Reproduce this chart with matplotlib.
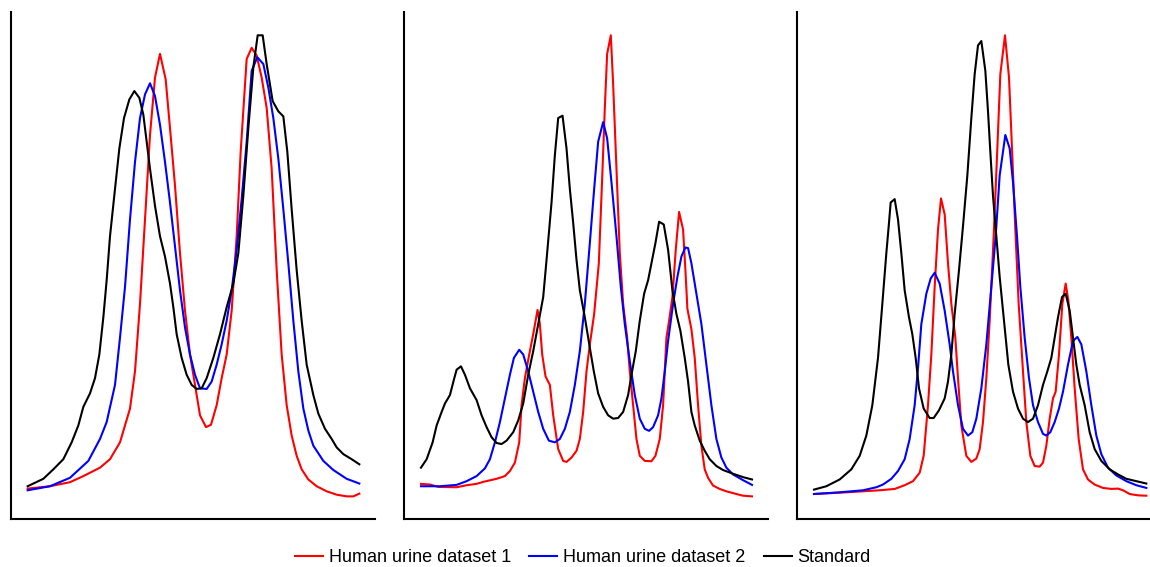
import matplotlib
matplotlib.use('Agg')
import matplotlib.pyplot as plt

plt.rcParams['font.family'] = ['Liberation Sans', 'DejaVu Sans']

labels = ['Human urine dataset 1', 'Human urine dataset 2', 'Standard']
colors = ['red', 'blue', 'black']

# panel 1 (time in arbitrary units, intensity in arbitrary units)
p1_red_x = [83, 150, 210, 250, 300, 330, 360, 390, 405, 420, 435, 450, 465, 480, 497, 510, 525, 540, 555, 570,
            585, 600, 618, 633, 650, 665, 680, 695, 710, 722, 740, 755, 770, 785, 800, 815, 830, 845, 860, 875,
            890, 905, 925, 950, 980, 1010, 1040, 1060, 1078]
p1_red_y = [90, 97, 109, 127, 152, 177, 227, 327, 437, 637, 887, 1137, 1307, 1377, 1302, 1157, 987, 787, 617, 487,
            397, 307, 272, 279, 337, 417, 487, 617, 837, 1087, 1362, 1395, 1372, 1307, 1217, 1037, 737, 487, 337, 247,
            187, 147, 117, 97, 82, 72, 67, 67, 75]
p1_blue_x = [83, 150, 210, 265, 300, 320, 345, 360, 375, 390, 405, 420, 435, 450, 465, 480, 495, 510, 525, 540,
             555, 570, 585, 600, 620, 635, 650, 665, 680, 695, 710, 725, 740, 755, 772, 790, 805, 820, 835, 850,
             865, 880, 895, 910, 925, 940, 970, 1000, 1040, 1078]
p1_blue_y = [85, 97, 122, 172, 237, 287, 397, 537, 687, 887, 1057, 1187, 1257, 1290, 1252, 1167, 1057, 937, 807, 677,
             567, 487, 427, 387, 385, 407, 457, 517, 587, 677, 797, 947, 1117, 1327, 1367, 1347, 1277, 1187, 1067, 917,
             757, 587, 437, 327, 262, 217, 172, 145, 119, 105]
p1_black_x = [83, 130, 160, 190, 215, 235, 250, 270, 285, 298, 310, 320, 330, 345, 358, 372, 388, 403, 418, 430,
              440, 450, 465, 480, 495, 510, 520, 530, 545, 560, 575, 590, 605, 620, 640, 660, 680, 700, 715, 730,
              745, 760, 773, 788, 800, 818, 835, 850, 862, 875, 890, 905, 920, 940, 955, 975, 995, 1010, 1030, 1055, 1078]
p1_black_y = [97, 119, 147, 177, 227, 277, 332, 372, 417, 487, 597, 707, 837, 977, 1097, 1187, 1242, 1267, 1247, 1197,
              1117, 1037, 927, 837, 777, 697, 627, 547, 477, 427, 397, 385, 387, 417, 477, 547, 627, 697, 787, 957,
              1157, 1337, 1432, 1432, 1347, 1237, 1207, 1192, 1087, 917, 737, 587, 457, 367, 312, 267, 237, 212, 192, 177, 162]

# panel 2
p2_red_x = [93, 120, 145, 200, 230, 260, 280, 320, 345, 360, 375, 388, 395, 405, 418, 430, 443, 450, 457, 467,
            480, 490, 505, 520, 530, 545, 560, 570, 580, 590, 600, 613, 627, 637, 645, 652, 663, 670, 680, 690,
            700, 712, 720, 730, 740, 750, 765, 785, 797, 810, 820, 830, 838, 848, 858, 868, 880, 887, 893, 905,
            915, 925, 935, 945, 955, 970, 990, 1010, 1040, 1060, 1087]
p2_red_y = [104, 102, 95, 94, 100, 104, 110, 119, 127, 142, 167, 227, 337, 417, 487, 547, 619, 577, 487, 422,
            397, 307, 207, 172, 169, 182, 202, 237, 317, 437, 517, 607, 757, 1007, 1217, 1377, 1432, 1287, 1037, 787,
            637, 537, 437, 337, 237, 187, 172, 171, 187, 237, 337, 537, 587, 657, 797, 909, 857, 737, 622, 562,
            477, 337, 217, 147, 122, 99, 89, 82, 74, 69, 67]
p2_blue_x = [93, 150, 200, 230, 260, 285, 300, 315, 330, 345, 360, 372, 388, 400, 415, 430, 445, 460, 477, 495,
             510, 525, 540, 555, 570, 585, 600, 613, 625, 640, 652, 665, 680, 693, 705, 720, 735, 750, 765, 778,
             790, 805, 815, 825, 835, 850, 863, 875, 887, 895, 905, 920, 935, 950, 965, 980, 995, 1010, 1030, 1060, 1087]
p2_blue_y = [97, 97, 101, 112, 127, 150, 177, 227, 287, 357, 427, 477, 501, 487, 437, 377, 317, 267, 232, 227,
             237, 267, 317, 397, 497, 637, 817, 977, 1117, 1175, 1127, 997, 837, 687, 577, 467, 367, 297, 267, 261,
             272, 307, 357, 437, 527, 637, 717, 777, 804, 802, 757, 667, 577, 457, 337, 237, 182, 152, 132, 115, 101]
p2_black_x = [93, 110, 128, 140, 155, 165, 180, 193, 200, 213, 225, 240, 260, 275, 290, 305, 320, 335, 350, 370,
              385, 400, 415, 430, 445, 460, 470, 485, 495, 505, 518, 530, 540, 550, 560, 570, 585, 600, 612, 625,
              640, 655, 670, 685, 700, 715, 725, 738, 750, 763, 775, 785, 797, 808, 822, 835, 848, 860, 872, 885,
              895, 905, 915, 930, 945, 960, 980, 1000, 1030, 1060, 1087]
p2_black_y = [152, 177, 227, 277, 317, 342, 367, 417, 442, 452, 427, 387, 352, 307, 272, 242, 225, 222, 232, 257,
              292, 342, 427, 497, 577, 657, 767, 937, 1077, 1187, 1194, 1097, 977, 877, 767, 677, 597, 507, 437, 372,
              332, 307, 297, 299, 317, 367, 427, 497, 587, 667, 707, 757, 817, 880, 872, 797, 677, 607, 557, 477,
              407, 317, 277, 232, 202, 177, 157, 145, 134, 124, 117]

# panel 3
p3_red_x = [103, 200, 300, 345, 375, 400, 420, 432, 445, 455, 465, 475, 484, 495, 505, 515, 527, 535, 545, 560,
            575, 590, 600, 610, 620, 630, 642, 653, 662, 676, 688, 697, 707, 717, 730, 740, 752, 765, 780, 790,
            800, 810, 820, 828, 838, 848, 858, 866, 875, 885, 897, 910, 925, 945, 970, 995, 1015, 1030, 1050, 1075, 1100]
p3_red_y = [74, 79, 85, 89, 100, 112, 137, 187, 337, 487, 687, 857, 949, 902, 757, 637, 537, 417, 277, 187,
            169, 179, 207, 287, 417, 587, 837, 1097, 1317, 1432, 1307, 1097, 857, 637, 437, 287, 187, 157, 155, 167,
            217, 297, 357, 377, 487, 637, 697, 647, 537, 387, 237, 147, 117, 102, 92, 89, 90, 85, 74, 70, 69]
p3_blue_x = [103, 180, 250, 290, 310, 335, 355, 375, 390, 405, 415, 425, 440, 453, 465, 480, 495, 510, 520, 535,
             550, 565, 578, 590, 605, 620, 635, 648, 660, 677, 690, 700, 712, 722, 735, 748, 760, 775, 790, 800,
             812, 825, 838, 850, 865, 880, 893, 905, 920, 935, 950, 965, 985, 1010, 1040, 1070, 1100]
p3_blue_y = [74, 79, 85, 94, 102, 119, 142, 177, 237, 337, 447, 577, 667, 712, 729, 697, 617, 517, 437, 337,
             267, 247, 257, 297, 387, 517, 687, 837, 1017, 1137, 1097, 997, 837, 687, 537, 417, 337, 287, 252, 247,
             257, 287, 327, 377, 457, 527, 539, 517, 437, 337, 247, 192, 152, 129, 112, 100, 92]
p3_black_x = [103, 140, 180, 215, 240, 260, 278, 295, 308, 320, 328, 333, 345, 355, 365, 375, 388, 398, 408, 418,
              432, 450, 462, 478, 495, 505, 515, 525, 538, 550, 563, 575, 585, 595, 605, 617, 625, 632, 640, 650,
              660, 673, 686, 700, 715, 730, 745, 760, 775, 790, 803, 815, 825, 835, 847, 858, 870, 880, 890, 900,
              915, 930, 945, 965, 990, 1015, 1040, 1070, 1100]
p3_black_y = [87, 97, 117, 147, 187, 247, 337, 477, 637, 787, 877, 937, 947, 887, 787, 677, 597, 547, 477, 387,
              327, 299, 299, 322, 357, 407, 487, 607, 737, 867, 1017, 1187, 1317, 1402, 1415, 1327, 1207, 1087, 957, 837,
              717, 587, 457, 377, 327, 297, 287, 297, 337, 397, 437, 477, 537, 597, 657, 667, 617, 537, 457, 397,
              337, 257, 207, 172, 147, 132, 119, 112, 105]

panels = [
    [(p1_red_x, p1_red_y), (p1_blue_x, p1_blue_y), (p1_black_x, p1_black_y)],
    [(p2_red_x, p2_red_y), (p2_blue_x, p2_blue_y), (p2_black_x, p2_black_y)],
    [(p3_red_x, p3_red_y), (p3_blue_x, p3_blue_y), (p3_black_x, p3_black_y)],
]
# axes boxes in figure fraction and x ranges
boxes = [[11/1150, 48/567, 364/1150, 507/567],
         [404/1150, 48/567, 364/1150, 507/567],
         [797/1150, 48/567, 353/1150, 507/567]]
xlims = [(33, 1125), (42, 1135), (52, 1111)]

fig = plt.figure(figsize=(11.5, 5.67), dpi=100)
handles = []
for i in range(3):
    ax = fig.add_axes(boxes[i])
    for (x, y), c, lab in zip(panels[i], colors, labels):
        ln, = ax.plot(x, y, color=c, lw=1.5, label=lab)
        if i == 0:
            handles.append(ln)
    ax.set_xlim(xlims[i])
    ax.set_ylim(0, 1501)
    ax.spines['top'].set_visible(False)
    ax.spines['right'].set_visible(False)
    ax.spines['left'].set_linewidth(1.5)
    ax.spines['bottom'].set_linewidth(1.5)
    ax.set_xticks([])
    ax.set_yticks([])

fig.legend(handles=handles, loc='center', bbox_to_anchor=(583/1150, 1 - 558/567), ncol=3,
           frameon=False, fontsize=13, handlelength=1.55, handletextpad=0.33, columnspacing=1.0,
           borderpad=0.0)

fig.savefig('out.png', dpi=100)
